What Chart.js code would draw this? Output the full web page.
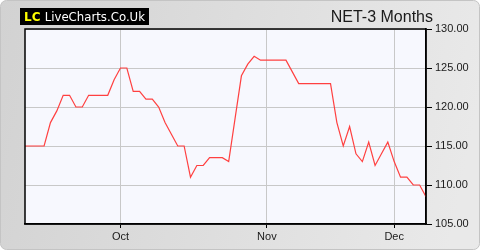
<!DOCTYPE html>
<html>
<head>
<meta charset="utf-8">
<script src="https://cdn.jsdelivr.net/npm/chart.js@4/dist/chart.umd.min.js"></script>
<style>
html,body{margin:0;padding:0;background:#fff;}
#wrap{position:relative;width:480px;height:250px;}
canvas{display:block;}
</style>
</head>
<body>
<div id="wrap"><canvas id="c" width="480" height="250"></canvas></div>
<script>
const titleText = "NET-3 Months";
const prices = [115,115,115,115,118,119.5,121.5,121.5,120,120,
  121.5,121.5,121.5,121.5,123.5,125,125,122,122,121,
  121,120,118,116.5,115,115,111,112.5,112.5,113.5,
  113.5,113.5,113,118.5,124,125.5,126.5,126,126,126,
  126,126,124.5,123,123,123,123,123,123,118,
  115,117.5,114,113,115.5,112.5,114,115.5,113,111,
  111,110,110,108.5];
const monthTickIndex = [15,38,58];
const monthTickLabels = ["Oct","Nov","Dec"];
const yTicks = [105,110,115,120,125,130];

const points = prices.map((v,i)=>({x:i,y:v}));

const bgPlugin = {
  id:'bg',
  beforeDraw(chart){
    const ctx = chart.ctx, W = chart.width, H = chart.height;
    ctx.save();
    ctx.fillStyle = '#ffffff';
    ctx.fillRect(0,0,W,H);
    const g = ctx.createLinearGradient(0,0,W,H*0.4);
    g.addColorStop(0,'#d2d2d2');
    g.addColorStop(1,'#e9e9e9');
    ctx.fillStyle = g;
    ctx.beginPath();
    ctx.roundRect(0.5,0.5,W-1,H-1,6);
    ctx.fill();
    ctx.strokeStyle = '#c4c4c4';
    ctx.lineWidth = 1;
    ctx.stroke();
    const a = chart.chartArea;
    ctx.fillStyle = '#f7f8fe';
    ctx.fillRect(a.left,a.top,a.right-a.left,a.bottom-a.top);
    // logo
    ctx.fillStyle = '#000';
    ctx.fillRect(20,8,129,17);
    ctx.font = 'bold 12px "DejaVu Sans"';
    ctx.textBaseline = 'alphabetic';
    ctx.fillStyle = '#ffff00';
    ctx.fillText('LC',24,21);
    const lcw = ctx.measureText('LC ').width;
    ctx.fillStyle = '#ffffff';
    ctx.font = '12px "DejaVu Sans"';
    const rest = 'LiveCharts.Co.Uk';
    const rw = ctx.measureText(rest).width;
    const target = 145 - (24+lcw);
    ctx.save();
    ctx.translate(24+lcw,21);
    ctx.scale(target/rw,1);
    ctx.fillText(rest,0,0);
    ctx.restore();
    // title
    ctx.fillStyle = '#1a1a1a';
    ctx.font = '16px "Liberation Sans", Arial, sans-serif';
    ctx.textAlign = 'right';
    ctx.fillText(titleText,433,22);
    ctx.restore();
  },
  afterDatasetsDraw(chart){
    const ctx = chart.ctx, a = chart.chartArea;
    ctx.save();
    ctx.strokeStyle = '#000';
    ctx.lineWidth = 1.5;
    ctx.strokeRect(a.left,a.top,a.right-a.left,a.bottom-a.top);
    ctx.restore();
  }
};

new Chart(document.getElementById('c'),{
  type:'line',
  data:{datasets:[{
    data:points,
    borderColor:'#ff4040',
    borderWidth:1.2,
    pointRadius:0,
    tension:0,
    fill:false
  }]},
  options:{
    responsive:false,
    animation:false,
    devicePixelRatio:1,
    layout:{padding:{left:25,top:29,right:0,bottom:0}},
    plugins:{legend:{display:false},tooltip:{enabled:false}},
    scales:{
      x:{
        type:'linear',
        min:0,max:prices.length-1,
        afterBuildTicks(s){ s.ticks = monthTickIndex.map(v=>({value:v})); },
        afterFit(s){ s.height = 26; },
        ticks:{
          autoSkip:false,maxRotation:0,
          color:'#1a1a1a',
          font:{family:'"Liberation Sans", Arial, sans-serif',size:11},
          padding:2,
          callback(v){ const k = monthTickIndex.indexOf(v); return k>=0?monthTickLabels[k]:''; }
        },
        grid:{color:'#c8c8c8',lineWidth:1,tickColor:'#000',tickLength:4,drawTicks:true},
        border:{display:true,color:'#000',width:1.5}
      },
      y:{
        position:'right',
        min:105,max:130,
        afterBuildTicks(s){ s.ticks = yTicks.map(v=>({value:v})); },
        afterFit(s){ s.width = 54; },
        ticks:{
          color:'#1a1a1a',
          font:{family:'"Liberation Sans", Arial, sans-serif',size:11},
          padding:3,
          callback(v){ return v.toFixed(2); }
        },
        grid:{color:'#c8c8c8',lineWidth:1,tickColor:'#000',tickLength:6,drawTicks:true},
        border:{display:true,color:'#000',width:1.5}
      }
    }
  },
  plugins:[bgPlugin]
});
</script>
</body>
</html>
